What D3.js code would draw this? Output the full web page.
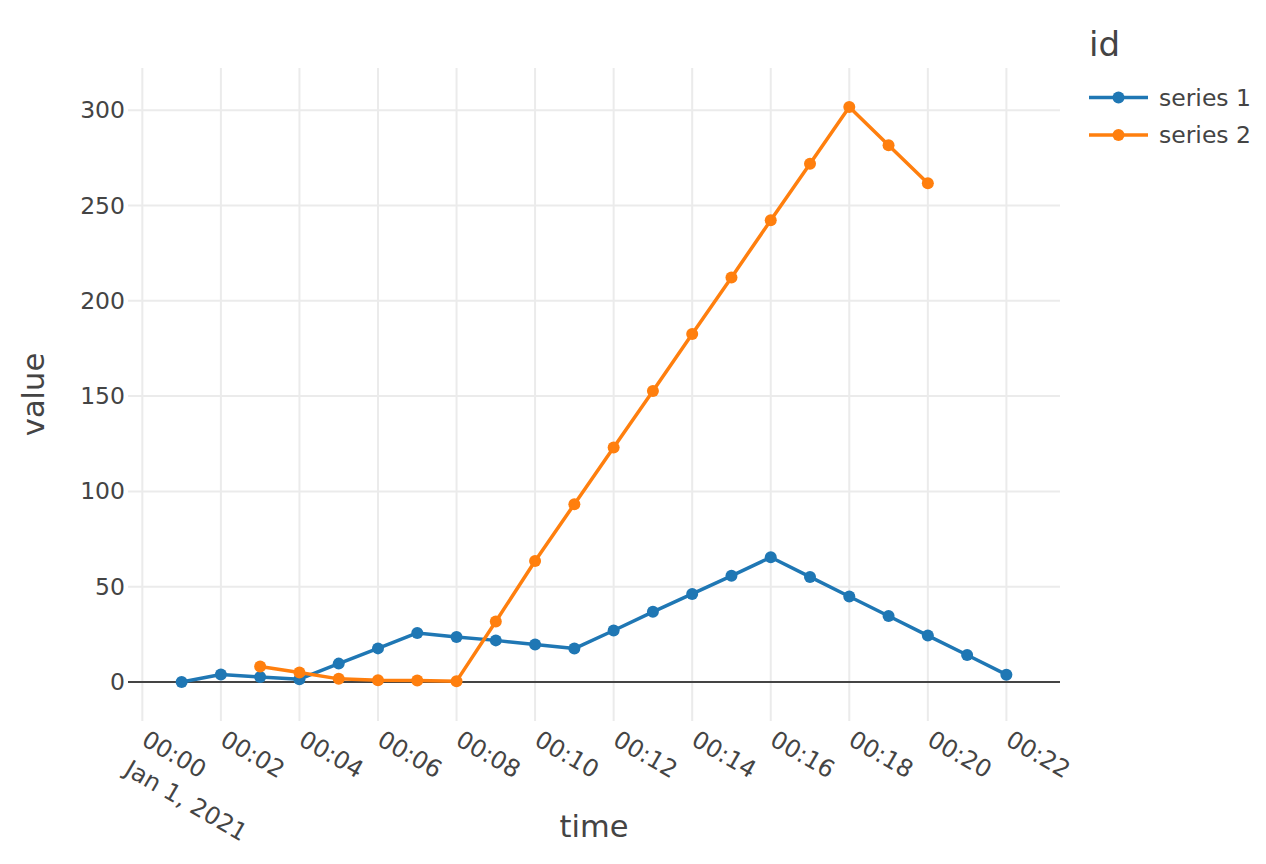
<!DOCTYPE html>
<html>
<head>
<meta charset="utf-8">
<script src="https://cdn.jsdelivr.net/npm/d3@7"></script>
<style>
  body { margin: 0; background: #fff; }
  text { font-family: "DejaVu Sans", Verdana, sans-serif; fill: #444; }
</style>
</head>
<body>
<div id="chart"></div>
<script>
// data
const series1Times = ["00:01", "00:02", "00:03", "00:04", "00:05", "00:06", "00:07", "00:08", "00:09", "00:10", "00:11",
                      "00:12", "00:13", "00:14", "00:15", "00:16", "00:17", "00:18", "00:19", "00:20", "00:21", "00:22"];
const series1Values = [0, 3.9, 2.6, 1.4, 9.6, 17.6, 25.7, 23.6, 21.8, 19.6, 17.5,
                       27.0, 36.8, 46.2, 55.7, 65.4, 55.1, 44.8, 34.6, 24.3, 14.1, 3.8];
const series2Times = ["00:03", "00:04", "00:05", "00:06", "00:07", "00:08", "00:09", "00:10", "00:11",
                      "00:12", "00:13", "00:14", "00:15", "00:16", "00:17", "00:18", "00:19", "00:20"];
const series2Values = [8.1, 4.9, 1.6, 0.9, 0.7, 0.4, 31.7, 63.5, 93.3,
                       123.0, 152.7, 182.6, 212.3, 242.3, 272.0, 301.7, 281.7, 261.7];
const seriesNames = ["series 1", "series 2"];
const colors = ["#1f77b4", "#ff7f0e"];
const yTicks = [0, 50, 100, 150, 200, 250, 300];
const xTickStep = 2; // minutes
const day = "2021-01-01";

const W = 1266, H = 864;
const margin = { top: 68, right: 206, bottom: 143, left: 128 };
const width = W - margin.left - margin.right;
const height = H - margin.top - margin.bottom;

const parse = d3.utcParse("%Y-%m-%d %H:%M");
const series = [
    { name: seriesNames[0], color: colors[0], points: series1Times.map((t, i) => ({ t: parse(day + " " + t), v: series1Values[i] })) },
    { name: seriesNames[1], color: colors[1], points: series2Times.map((t, i) => ({ t: parse(day + " " + t), v: series2Values[i] })) }
];
const all = series.flatMap(s => s.points);

// autorange-ish padding like plotly
const tExt = d3.extent(all, d => +d.t);
const tPad = (tExt[1] - tExt[0]) * 0.065;
const vExt = d3.extent(all, d => d.v);
const vPad = (vExt[1] - vExt[0]) * 0.068;

const x = d3.scaleUtc().domain([tExt[0] - tPad, tExt[1] + tPad]).range([0, width]);
const y = d3.scaleLinear().domain([vExt[0] - vPad, vExt[1] + vPad]).range([height, 0]);

const svg = d3.select("#chart").append("svg")
    .attr("width", W).attr("height", H);

const g = svg.append("g").attr("transform", "translate(" + margin.left + "," + margin.top + ")");

const xTicks = d3.utcMinute.every(xTickStep).range(parse(day + " 00:00"), new Date(tExt[1] + tPad));

// grid
g.append("g").selectAll("line").data(xTicks).join("line")
    .attr("x1", d => x(d)).attr("x2", d => x(d))
    .attr("y1", 0).attr("y2", height)
    .attr("stroke", "#ebebeb").attr("stroke-width", 2);

g.append("g").selectAll("line").data(yTicks.filter(d => d !== 0)).join("line")
    .attr("x1", 0).attr("x2", width)
    .attr("y1", d => y(d)).attr("y2", d => y(d))
    .attr("stroke", "#ebebeb").attr("stroke-width", 2);

// zero line
g.append("line")
    .attr("x1", 0).attr("x2", width)
    .attr("y1", y(0)).attr("y2", y(0))
    .attr("stroke", "#444").attr("stroke-width", 2);

// y axis labels
const yAxis = d3.axisLeft(y).tickValues(yTicks).tickSize(0).tickPadding(3);
g.append("g").call(yAxis)
    .call(a => a.select(".domain").remove())
    .selectAll("text")
    .style("font-family", '"DejaVu Sans", Verdana, sans-serif')
    .style("font-size", "23.5px").attr("fill", "#444");

// x axis labels, rotated 30deg
const fmt = d3.utcFormat("%H:%M");
const xl = g.append("g").selectAll("text").data(xTicks).join("text")
    .attr("transform", d => "translate(" + (x(d) + 2) + "," + (height + 16) + ") rotate(30)")
    .attr("text-anchor", "start")
    .style("font-size", "24px");
xl.append("tspan").attr("x", 0).attr("dy", "0.35em").text(d => fmt(d));
xl.filter((d, i) => i === 0).append("tspan").attr("x", 0).attr("dy", "1.42em").text("Jan 1, 2021");

// lines and markers
const line = d3.line().x(d => x(d.t)).y(d => y(d.v));
const sg = g.append("g").selectAll("g").data(series).join("g");
sg.append("path")
    .attr("d", d => line(d.points))
    .attr("fill", "none").attr("stroke", d => d.color).attr("stroke-width", 3.5)
    .attr("stroke-linejoin", "round");
sg.selectAll("circle").data(d => d.points.map(p => ({ ...p, color: d.color }))).join("circle")
    .attr("cx", d => x(d.t)).attr("cy", d => y(d.v)).attr("r", 6)
    .attr("fill", d => d.color);

// axis titles
svg.append("text")
    .attr("x", margin.left + width / 2).attr("y", 837)
    .attr("text-anchor", "middle").style("font-size", "30.5px").text("time");
svg.append("text")
    .attr("transform", "translate(44," + (margin.top + height / 2) + ") rotate(-90)")
    .attr("text-anchor", "middle").style("font-size", "30.5px").text("value");

// legend
const lg = svg.append("g").attr("transform", "translate(1089,0)");
lg.append("text").attr("x", 0).attr("y", 56).style("font-size", "34px").text("id");
const items = lg.selectAll("g.item").data(series).join("g")
    .attr("class", "item")
    .attr("transform", (d, i) => "translate(0," + (97.5 + i * 37.5) + ")");
items.append("line").attr("x1", 0).attr("x2", 59).attr("y1", 0).attr("y2", 0)
    .attr("stroke", d => d.color).attr("stroke-width", 3.5);
items.append("circle").attr("cx", 29.5).attr("cy", 0).attr("r", 6).attr("fill", d => d.color);
items.append("text").attr("x", 70).attr("dy", "0.35em").style("font-size", "23.5px").text(d => d.name);
</script>
</body>
</html>
